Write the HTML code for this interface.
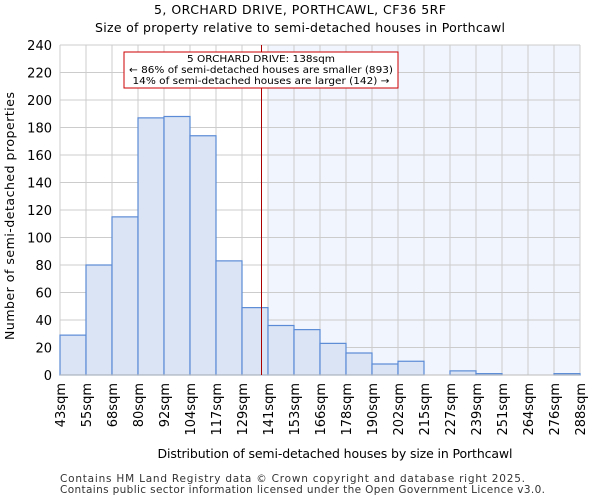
<!DOCTYPE html>
<html><head><meta charset="utf-8"><style>
body{margin:0;background:#fff;font-family:"DejaVu Sans","Liberation Sans",sans-serif;}
</style></head><body>
<svg id="c" width="600" height="500" xmlns="http://www.w3.org/2000/svg" font-family="DejaVu Sans, Liberation Sans, sans-serif">
<text x="300" y="14" text-anchor="middle" font-size="12.5" textLength="292">5, ORCHARD DRIVE, PORTHCAWL, CF36 5RF</text>
<text x="300" y="32" text-anchor="middle" font-size="12.5" textLength="410">Size of property relative to semi-detached houses in Porthcawl</text>
<g id="plot"></g>
<text x="335" y="458" text-anchor="middle" font-size="12.5" textLength="355">Distribution of semi-detached houses by size in Porthcawl</text>
<text x="14" y="216" text-anchor="middle" font-size="12.5" textLength="248" transform="rotate(-90 14 216)">Number of semi-detached properties</text>
<text x="60" y="482" font-size="10.5" fill="#333" textLength="465">Contains HM Land Registry data © Crown copyright and database right 2025.</text>
<text x="60" y="493" font-size="10.5" fill="#333" textLength="485">Contains public sector information licensed under the Open Government Licence v3.0.</text>
</svg>
<script>
const binLabels=["43sqm","55sqm","68sqm","80sqm","92sqm","104sqm","117sqm","129sqm","141sqm","153sqm","166sqm","178sqm","190sqm","202sqm","215sqm","227sqm","239sqm","251sqm","264sqm","276sqm","288sqm"];
const counts=[29,80,115,187,188,174,83,49,36,33,23,16,8,10,0,3,1,0,0,1];
const yTicks=[0,20,40,60,80,100,120,140,160,180,200,220,240];
const markerBin=7.75;
const shadeFromBin=8;
const ns="http://www.w3.org/2000/svg";
const X0=60,X1=580,Y0=375,Y1=45,YMAX=240;
const bw=(X1-X0)/counts.length;
const xs=i=>X0+i*bw;
const ys=v=>Y0-(v/YMAX)*(Y0-Y1);
const g=document.getElementById('plot');
function mk(t,a){const e=document.createElementNS(ns,t);for(const k in a)e.setAttribute(k,a[k]);g.appendChild(e);return e;}
let s=mk('rect',{x:xs(shadeFromBin),y:Y1,width:X1-xs(shadeFromBin),height:Y0-Y1,fill:'#f1f5fd'});


for(let i=0;i<=counts.length;i++){let l=mk('line',{x1:xs(i),x2:xs(i),y1:Y1,y2:Y0,stroke:'#ccc','stroke-width':1});

}
yTicks.forEach(v=>{let l=mk('line',{x1:X0,x2:X1,y1:ys(v),y2:ys(v),stroke:'#ccc','stroke-width':1});


let t=mk('text',{x:X0-8,y:ys(v)+5,'text-anchor':'end','font-size':13});t.textContent=v;

});
counts.forEach((v,i)=>{if(v<=0)return;let r=mk('rect',{x:xs(i),y:ys(v),width:bw,height:Y0-ys(v),fill:'#dae4f4',stroke:'#5b8bd6','stroke-width':1.2});

});
binLabels.forEach((lab,i)=>{const x=xs(i)+5;let t=mk('text',{x:x,y:Y0+8,'text-anchor':'end','font-size':13,transform:`rotate(-90 ${x} ${Y0+8})`});t.textContent=lab;

});
let ax=mk('line',{x1:X0,x2:X1,y1:Y0,y2:Y0,stroke:'#bbb'});


const mx=xs(markerBin);
let m=mk('line',{x1:mx,x2:mx,y1:Y1,y2:Y0,stroke:'#a00','stroke-width':1});


let b=mk('rect',{x:124,y:52,width:274,height:36,fill:'#fff',stroke:'#c00','stroke-width':1});


const ann=["5 ORCHARD DRIVE: 138sqm","← 86% of semi-detached houses are smaller (893)","14% of semi-detached houses are larger (142) →"];
const annW=[148,264,257];
ann.forEach((s,i)=>{let t=mk('text',{x:261,y:62+i*11,'text-anchor':'middle','font-size':10,textLength:annW[i],lengthAdjust:'spacingAndGlyphs'});t.textContent=s;

});
</script>
</body></html>
